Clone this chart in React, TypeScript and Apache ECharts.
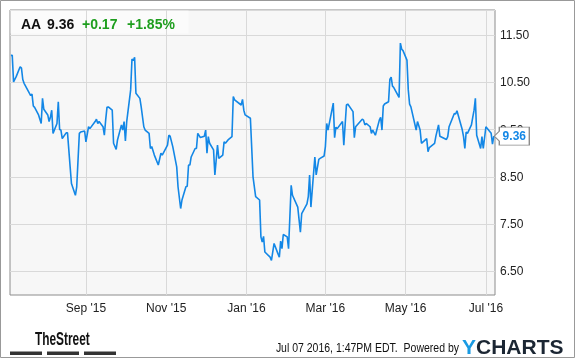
import React, { useEffect, useRef } from "react";
import * as echarts from "echarts";

const dates: string[] = [
  "2015-07-06","2015-07-07","2015-07-08","2015-07-10","2015-07-13","2015-07-14","2015-07-15","2015-07-16","2015-07-20","2015-07-21",
  "2015-07-22","2015-07-23","2015-07-24","2015-07-27","2015-07-29","2015-07-30","2015-07-31","2015-08-03","2015-08-04","2015-08-05",
  "2015-08-06","2015-08-07","2015-08-10","2015-08-11","2015-08-12","2015-08-13","2015-08-14","2015-08-17","2015-08-18","2015-08-19",
  "2015-08-20","2015-08-21","2015-08-24","2015-08-25","2015-08-27","2015-08-28","2015-08-31","2015-09-01","2015-09-03","2015-09-04",
  "2015-09-08","2015-09-09","2015-09-10","2015-09-11","2015-09-14","2015-09-15","2015-09-16","2015-09-17","2015-09-18","2015-09-21",
  "2015-09-22","2015-09-24","2015-09-25","2015-09-28","2015-09-29","2015-09-30","2015-10-01","2015-10-02","2015-10-05","2015-10-06",
  "2015-10-07","2015-10-08","2015-10-09","2015-10-12","2015-10-13","2015-10-15","2015-10-16","2015-10-19","2015-10-20","2015-10-21",
  "2015-10-23","2015-10-26","2015-10-28","2015-10-29","2015-11-02","2015-11-03","2015-11-04","2015-11-06","2015-11-09","2015-11-10",
  "2015-11-12","2015-11-13","2015-11-16","2015-11-17","2015-11-18","2015-11-19","2015-11-20","2015-11-23","2015-11-24","2015-11-25",
  "2015-11-27","2015-11-30","2015-12-01","2015-12-02","2015-12-03","2015-12-04","2015-12-07","2015-12-08","2015-12-10","2015-12-11",
  "2015-12-14","2015-12-15","2015-12-16","2015-12-18","2015-12-21","2015-12-22","2015-12-23","2015-12-28","2015-12-29","2015-12-30",
  "2015-12-31","2016-01-04","2016-01-06","2016-01-08","2016-01-11","2016-01-12","2016-01-13","2016-01-14","2016-01-15","2016-01-19",
  "2016-01-20","2016-01-22","2016-01-25","2016-01-26","2016-01-27","2016-01-28","2016-01-29","2016-02-01","2016-02-02","2016-02-04",
  "2016-02-05","2016-02-09","2016-02-11","2016-02-12","2016-02-16","2016-02-17","2016-02-18","2016-02-19","2016-02-22","2016-02-23",
  "2016-02-25","2016-02-26","2016-02-29","2016-03-01","2016-03-02","2016-03-03","2016-03-07","2016-03-08","2016-03-09","2016-03-10",
  "2016-03-14","2016-03-15","2016-03-17","2016-03-18","2016-03-22","2016-03-23","2016-03-24","2016-03-29","2016-03-30","2016-03-31",
  "2016-04-01","2016-04-04","2016-04-05","2016-04-06","2016-04-08","2016-04-11","2016-04-12","2016-04-13","2016-04-14","2016-04-15",
  "2016-04-18","2016-04-19","2016-04-20","2016-04-21","2016-04-22","2016-04-26","2016-04-27","2016-04-28","2016-04-29","2016-05-02",
  "2016-05-03","2016-05-04","2016-05-05","2016-05-09","2016-05-10","2016-05-12","2016-05-13","2016-05-17","2016-05-18","2016-05-19",
  "2016-05-23","2016-05-24","2016-05-26","2016-05-27","2016-06-01","2016-06-02","2016-06-03","2016-06-07","2016-06-08","2016-06-09",
  "2016-06-13","2016-06-14","2016-06-15","2016-06-16","2016-06-17","2016-06-20","2016-06-21","2016-06-22","2016-06-23","2016-06-24",
  "2016-06-27","2016-06-28","2016-06-29","2016-07-01","2016-07-05","2016-07-06","2016-07-07"
];

const prices: number[] = [
  11.07,11.07,10.51,10.62,10.83,10.80,10.56,10.48,10.27,10.22,
  10.25,10.00,9.97,9.81,9.63,10.16,9.93,9.81,9.67,9.76,
  9.91,9.42,9.63,10.09,9.50,9.49,9.31,9.43,9.43,9.07,
  8.71,8.36,8.11,8.29,9.42,9.45,9.47,9.24,9.56,9.52,
  9.67,9.72,9.63,9.67,9.56,9.38,9.70,9.97,9.98,9.91,
  9.21,9.08,9.28,9.60,9.49,9.67,9.26,9.67,10.34,10.99,
  10.96,11.03,10.27,10.16,9.98,9.56,9.49,9.42,9.10,9.14,
  8.96,8.75,9.00,8.96,9.17,9.38,9.36,9.14,8.71,8.29,
  7.83,8.01,8.29,8.30,8.75,8.75,8.92,9.10,9.10,9.42,
  9.33,9.36,9.49,9.00,9.35,9.21,9.07,8.54,9.17,8.89,
  8.96,9.24,9.21,9.28,9.35,10.20,10.13,10.02,10.14,9.91,
  9.81,9.74,8.50,8.08,8.01,7.23,7.12,7.24,6.91,6.80,
  6.73,7.09,6.87,6.80,7.14,6.98,7.28,7.23,6.98,8.32,
  8.11,7.86,7.33,7.72,7.93,8.08,8.54,7.86,8.92,8.54,
  8.87,8.89,8.94,9.14,9.63,9.49,10.06,9.33,9.55,9.52,
  9.67,9.17,10.02,10.04,9.88,9.33,9.56,9.72,9.70,9.60,
  9.63,9.56,9.42,9.49,9.38,9.70,9.76,9.49,10.00,10.04,
  10.09,10.56,10.61,10.42,10.39,10.18,11.33,11.20,11.17,10.97,
  10.34,10.04,9.98,9.49,9.67,9.49,9.21,9.31,9.03,9.12,
  9.21,9.36,9.60,9.36,9.29,9.35,9.56,9.84,9.83,9.90,
  9.50,9.35,9.10,9.45,9.42,9.60,9.76,9.91,10.16,9.38,
  9.10,9.35,9.10,9.56,9.42,9.19,9.36
];

const xTickDates: string[] = ["2015-09-01", "2015-11-01", "2016-01-01", "2016-03-01", "2016-05-01", "2016-07-01"];
const yTickValues: number[] = [6.5, 7.5, 8.5, 9.5, 10.5, 11.5];
const monthNames: string[] = ["Jan","Feb","Mar","Apr","May","Jun","Jul","Aug","Sep","Oct","Nov","Dec"];

const ticker = "AA";
const lastPrice = "9.36";
const change = "+0.17";
const changePct = "+1.85%";
const stamp = "Jul 07 2016, 1:47PM EDT.  Powered by";

const toTs = (s: string) => {
  const [y, m, d] = s.split("-").map(Number);
  return new Date(y, m - 1, d).getTime();
};

const LINE = "#1387e6";
const FONT = "'Liberation Sans', Arial, sans-serif";

export default function App() {
  const ref = useRef<HTMLDivElement>(null);
  useEffect(() => {
    if (!ref.current) return;
    const chart = echarts.init(ref.current, undefined, { renderer: "svg" });
    const seriesData = dates.map((d, i) => [toTs(d), prices[i]]);
    const lastIdx = dates.length - 1;
    const xTicks = xTickDates.map(toTs);
    chart.setOption({
      animation: false,
      textStyle: { fontFamily: FONT },
      grid: {
        left: 10, right: 80, top: 10, bottom: 63,
        show: true, backgroundColor: "#f7f7f7", borderColor: "#8c8c8c", borderWidth: 1,
      },
      xAxis: {
        type: "value",
        min: new Date(2015, 6, 5, 7).getTime(),
        max: new Date(2016, 6, 7, 22).getTime(),
        axisLine: { show: false },
        axisTick: { show: false, customValues: xTicks },
        axisLabel: {
          customValues: xTicks,
          formatter: (v: number) => {
            const d = new Date(v);
            return monthNames[d.getMonth()] + " '" + String(d.getFullYear()).slice(2);
          },
          color: "#222", fontSize: 12, margin: 7, fontFamily: FONT,
        },
        splitLine: { show: false },
      },
      yAxis: {
        type: "value",
        position: "right",
        min: 6, max: 12.03, interval: 0.5,
        axisLine: { show: false },
        axisTick: { show: false },
        axisLabel: {
          formatter: (v: number) => (yTickValues.some((t) => Math.abs(t - v) < 1e-6) ? v.toFixed(2) : ""),
          color: "#222", fontSize: 12, margin: 5, fontFamily: FONT, showMaxLabel: false,
        },
        splitLine: { show: true, lineStyle: { color: ["rgba(0,0,0,0)", "#d9d9d9"], width: 1 } },
      },
      series: [
        {
          type: "line",
          data: seriesData,
          showSymbol: false,
          symbol: "none",
          lineStyle: { color: LINE, width: 1.6 },
          z: 3,
          markLine: {
            silent: true,
            symbol: "none",
            label: { show: false },
            lineStyle: { color: "#d9d9d9", width: 1, type: "solid" },
            z: 1,
            data: xTicks.map((t) => ({ xAxis: t })),
          },
          markPoint: {
            symbol: "path://M0,9L5,4L5,0L35,0L35,18L5,18L5,14Z",
            symbolSize: [35, 18],
            symbolKeepAspect: false,
            symbolOffset: [18, 0],
            itemStyle: { color: "#ffffff", borderColor: "#8c8c8c", borderWidth: 1 },
            label: {
              show: true, position: "inside", offset: [2.5, 0],
              formatter: lastPrice, color: LINE, fontWeight: "bold", fontSize: 12, fontFamily: FONT,
            },
            data: [{ coord: [toTs(dates[lastIdx]), prices[lastIdx]] }],
          },
        },
      ],
      graphic: [
        { type: "rect", z: 1, silent: true, shape: { x: 10.5, y: 10.5, width: 178, height: 23 }, style: { fill: "rgba(255,255,255,0.55)" } },
        { type: "text", z: 10, x: 21, y: 24, style: { text: ticker, fill: "#111", font: `bold 14px ${FONT}`, textVerticalAlign: "middle" } },
        { type: "text", z: 10, x: 47, y: 24, style: { text: lastPrice, fill: "#111", font: `bold 14px ${FONT}`, textVerticalAlign: "middle" } },
        { type: "text", z: 10, x: 82, y: 24, style: { text: change, fill: "#1e9e1e", font: `bold 14px ${FONT}`, textVerticalAlign: "middle" } },
        { type: "text", z: 10, x: 127, y: 24, style: { text: changePct, fill: "#1e9e1e", font: `bold 14px ${FONT}`, textVerticalAlign: "middle" } },
        { type: "text", z: 10, x: 35, y: 338.5, scaleX: 0.66, style: { text: "TheStreet", fill: "#111", font: `bold 18px ${FONT}`, textVerticalAlign: "middle" } },
        { type: "rect", z: 10, shape: { x: 10, y: 351.5, width: 32, height: 3.5 }, style: { fill: "#333" } },
        { type: "rect", z: 10, shape: { x: 47, y: 351.5, width: 32, height: 3.5 }, style: { fill: "#333" } },
        { type: "rect", z: 10, shape: { x: 84, y: 351.5, width: 32, height: 3.5 }, style: { fill: "#333" } },
        { type: "text", z: 10, x: 459, y: 348, scaleX: 0.875, style: { text: stamp, fill: "#111", font: `12px ${FONT}`, textAlign: "right", textVerticalAlign: "middle" } },
        { type: "text", z: 10, x: 462, y: 346, style: { text: "Y", fill: "#1a9be3", font: `bold 21px ${FONT}`, textVerticalAlign: "middle" } },
        { type: "text", z: 10, x: 476, y: 346, style: { text: "CHARTS", fill: "#1b2633", font: `bold 21px ${FONT}`, textVerticalAlign: "middle" } },
        { type: "rect", z: 20, silent: true, shape: { x: 0.5, y: 0.5, width: 574, height: 357 }, style: { fill: "none", stroke: "#999", lineWidth: 1 } },
      ],
    });
    return () => chart.dispose();
  }, []);
  return <div ref={ref} style={{ position: "fixed", left: 0, top: 0, width: 575, height: 358 }} />;
}
